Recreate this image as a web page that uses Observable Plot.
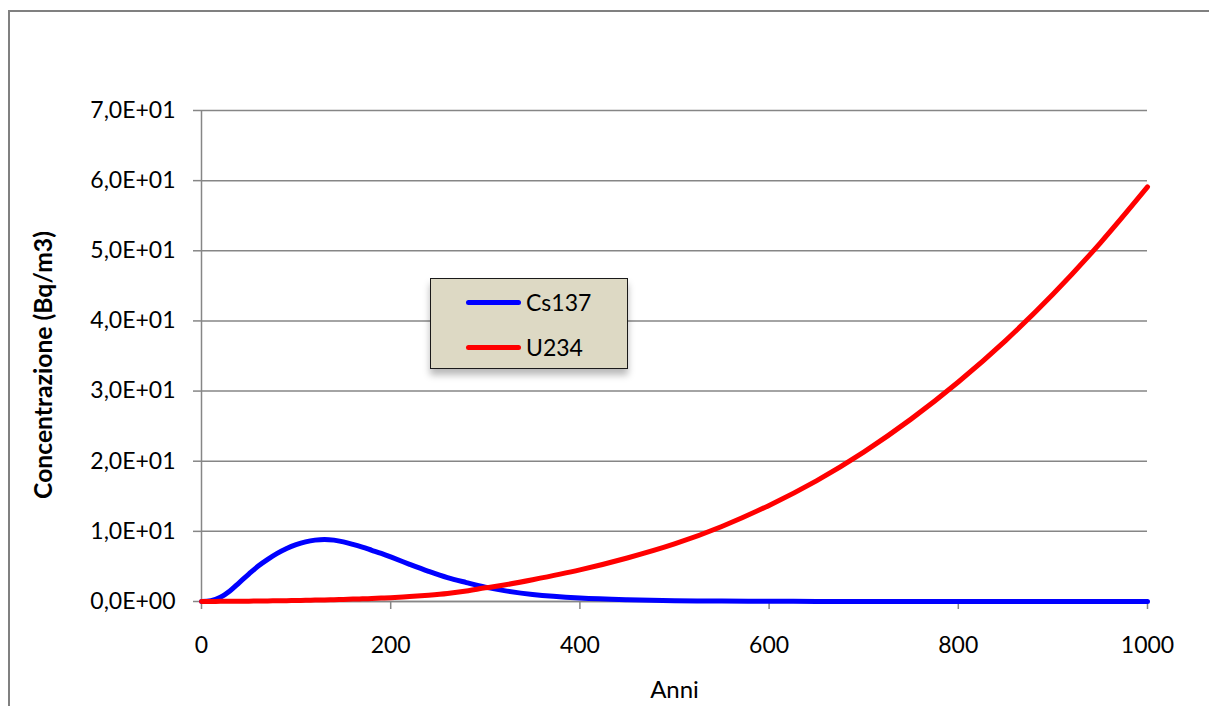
<!DOCTYPE html>
<html>
<head>
<meta charset="utf-8">
<script src="https://cdn.jsdelivr.net/npm/d3@7"></script>
<script src="https://cdn.jsdelivr.net/npm/@observablehq/plot@0.6"></script>
<style>
  html, body { margin: 0; padding: 0; background: #fff; overflow: hidden; }
  #wrap { position: relative; width: 1209px; height: 706px; }
  #frame { position: absolute; left: 8px; top: 10px; width: 1230px; height: 730px; border: 2px solid #808080; box-sizing: border-box; }
  #chart { position: absolute; left: 0; top: 0; }
  #legend { position: absolute; left: 430px; top: 278px; width: 198px; height: 91px; box-sizing: border-box;
            background: #ddd9c4; border: 1.5px solid #1a1a1a; box-shadow: 0 6px 7px rgba(0,0,0,0.28);
            font-family: Lato, sans-serif; font-size: 23px; color: #000; }
  .item { position: absolute; left: 35px; display: flex; align-items: center; height: 30px; }
  .sw { width: 55px; height: 5px; border-radius: 3px; margin-right: 5px; }
</style>
</head>
<body>
<div id="wrap">
  <div id="frame"></div>
  <div id="chart"></div>
  <div id="legend"></div>
</div>
<script>
const years = [0,10,20,30,40,50,60,70,80,90,100,110,120,130,140,150,160,170,180,190,200,220,240,260,280,300,320,350,400,450,500,550,600,650,700,750,800,850,900,950,1000];
const cs137 = [0,0.1,0.6,1.5,2.7,3.9,5.05,6.0,6.85,7.55,8.1,8.5,8.75,8.85,8.75,8.5,8.15,7.75,7.3,6.85,6.35,5.3,4.3,3.4,2.7,2.05,1.55,1.0,0.5,0.25,0.12,0.06,0.03,0.015,0.01,0.005,0,0,0,0,0];
const u234 = [0,0.01,0.02,0.03,0.04,0.05,0.07,0.08,0.1,0.12,0.15,0.17,0.2,0.23,0.26,0.3,0.34,0.38,0.43,0.49,0.55,0.7,0.9,1.15,1.5,1.95,2.35,3.1,4.5,6.2,8.2,10.7,13.7,17.2,21.3,26.0,31.3,37.2,43.8,51.1,59.1];
const seriesNames = ["Cs137", "U234"];
const seriesColors = ["#0000ff", "#ff0000"];
const xTicks = [0,200,400,600,800,1000];
const yTicks = [0,10,20,30,40,50,60,70];
const xTitle = "Anni";
const yTitle = "Concentrazione (Bq/m3)";

const seriesValues = [cs137, u234];
const rows = seriesNames.flatMap((name, s) => years.map((yr, i) => ({series: name, year: yr, value: seriesValues[s][i]})));

const fmt = v => {
  const s = v.toExponential(1).replace(".", ",");
  return s.replace(/e([+-])(\d+)$/, (m, sign, d) => "E" + sign + d.padStart(2, "0"));
};

const grey = "#868686";
const chart = Plot.plot({
  width: 1209,
  height: 706,
  marginLeft: 201,
  marginRight: 62,
  marginTop: 110,
  marginBottom: 105,
  style: {fontFamily: "Lato, sans-serif", fontSize: "23px", background: "transparent", color: "#000"},
  x: {domain: [0, 1000]},
  y: {domain: [0, 70]},
  color: {domain: seriesNames, range: seriesColors},
  marks: [
    Plot.gridY(yTicks, {stroke: grey, strokeOpacity: 1, strokeWidth: 1.5}),
    Plot.ruleX([0], {stroke: grey, strokeWidth: 1.5}),
    Plot.ruleY([0], {stroke: grey, strokeWidth: 1.5}),
    Plot.axisY(yTicks, {tickSize: 8, tickPadding: 18, tickFormat: fmt, stroke: grey, strokeWidth: 1.5, fill: "#000", label: null}),
    Plot.axisX(xTicks, {tickSize: 8, tickPadding: 27, tickFormat: d => String(d), stroke: grey, strokeWidth: 1.5, fill: "#000", label: null}),
    Plot.text([yTitle], {frameAnchor: "left", dx: -157, dy: 9, rotate: -90, fontWeight: "bold", fontSize: 24.7, fill: "#000", textAnchor: "middle", lineAnchor: "middle"}),
    Plot.text([xTitle], {frameAnchor: "bottom", dy: 89, fontSize: 24, fill: "#000", textAnchor: "middle", lineAnchor: "middle"}),
    Plot.line(rows, {x: "year", y: "value", z: "series", stroke: "series", strokeWidth: 5, curve: "catmull-rom", strokeLinecap: "round", strokeLinejoin: "round"})
  ]
});
document.getElementById("chart").appendChild(chart);

const legend = document.getElementById("legend");
seriesNames.forEach((name, i) => {
  const item = document.createElement("div");
  item.className = "item";
  item.style.top = (i === 0 ? 8 : 53) + "px";
  const sw = document.createElement("div");
  sw.className = "sw";
  sw.style.background = seriesColors[i];
  const t = document.createElement("span");
  t.textContent = name;
  item.appendChild(sw);
  item.appendChild(t);
  legend.appendChild(item);
});
</script>
</body>
</html>
